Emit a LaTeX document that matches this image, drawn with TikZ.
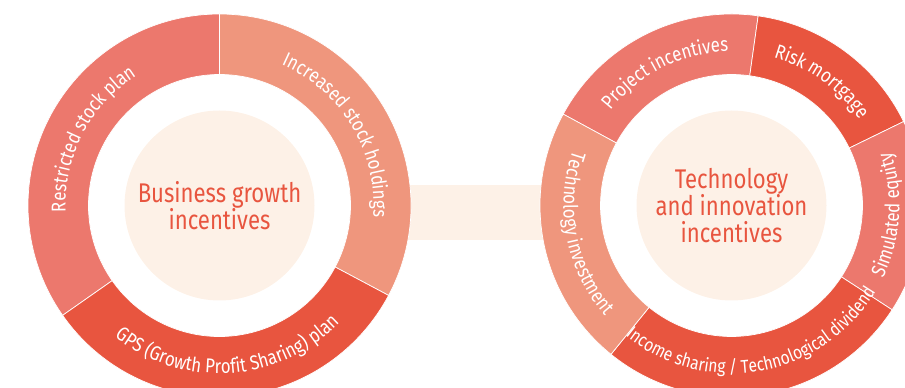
\documentclass[tikz,border=0pt]{standalone}
\usepackage{fontspec}
\setmainfont{Fira Sans}
\newfontfamily\ringfont[FakeStretch=0.84]{Fira Sans}
\newfontfamily\hubfont[FakeStretch=0.82]{Fira Sans}
\usepackage{xcolor}
\usepackage{tikz}
\usetikzlibrary{calc, decorations.text, positioning}

\definecolor{segmid}{HTML}{EC786D}
\definecolor{seglight}{HTML}{EF967D}
\definecolor{segdark}{HTML}{E8553F}
\definecolor{cream}{HTML}{FDF1E7}

% one piece of a ring: centre, start angle, end angle, colour
\newcommand{\ringpart}[4]{%
  \fill[#4, draw=white, line width=0.7pt]
    ($(#1)+(#2:191.5)$) arc[start angle=#2, end angle=#3, radius=191.5pt]
    -- ($(#1)+(#3:131)$) arc[start angle=#3, end angle=#2, radius=131pt] -- cycle;}

\begin{document}
\begin{tikzpicture}[x=1pt, y=1pt,
    hubtext/.style={font=\hubfont\fontsize{27}{27}\selectfont, text=segdark, align=center},
    ringtext/.style={decorate, decoration={text along path, text align=center,
        text color=white, text={|\ringfont\fontsize{20}{20}\selectfont|#1}}},
    ringtextsmall/.style={decorate, decoration={text along path, text align=center,
        text color=white, text={|\ringfont\fontsize{18.5}{18.5}\selectfont|#1}}}]
    \useasboundingbox (0,0) rectangle (905,388);
    \clip (0,0) rectangle (905,388);

    % 1. Centres of the two rings
    \coordinate (bizc) at (219.5,182.5);
    \coordinate (tecc) at (731.5,182.5);

    % Cream bar joining the rings
    \fill[cream] (400,148) rectangle (555,203);

    % 2. Left ring
    \ringpart{bizc}{90}{215}{segmid}
    \ringpart{bizc}{-28}{90}{seglight}
    \ringpart{bizc}{215}{332}{segdark}
    \fill[cream] (bizc) circle[radius=95pt];

    \path[ringtext={Restricted stock plan}] ($(bizc)+(212:154)$) arc[start angle=212, end angle=93, radius=154pt];
    \path[ringtext={Increased stock holdings}] ($(bizc)+(89:154)$) arc[start angle=89, end angle=-27, radius=154pt];
    \path[ringtext={GPS (Growth Profit Sharing) plan}] ($(bizc)+(216:168)$) arc[start angle=216, end angle=331, radius=168pt];

    \node[hubtext] (biz) at (bizc) {Business growth\\incentives};

    % 3. Right ring
    \ringpart{tecc}{82}{151.5}{segmid}
    \ringpart{tecc}{26}{82}{segdark}
    \ringpart{tecc}{-33}{26}{segmid}
    \ringpart{tecc}{231}{327}{segdark}
    \ringpart{tecc}{151.5}{231}{seglight}
    \fill[cream] (tecc) circle[radius=95pt];

    \path[ringtext={Project incentives}] ($(tecc)+(150:154)$) arc[start angle=150, end angle=83, radius=154pt];
    \path[ringtext={Risk mortgage}] ($(tecc)+(81:154)$) arc[start angle=81, end angle=27, radius=154pt];
    \path[ringtext={Simulated equity}] ($(tecc)+(-32:168)$) arc[start angle=-32, end angle=25, radius=168pt];
    % long label: a bit smaller, path runs past the piece on both sides
    \path[ringtextsmall={Income sharing / Technological dividend}] ($(tecc)+(226:168)$) arc[start angle=226, end angle=334, radius=168pt];
    \path[ringtext={Technology investment}] ($(tecc)+(152:168)$) arc[start angle=152, end angle=230, radius=168pt];

    \node[hubtext] (tec) at (tecc) {Technology\\and innovation\\incentives};

\end{tikzpicture}
\end{document}
